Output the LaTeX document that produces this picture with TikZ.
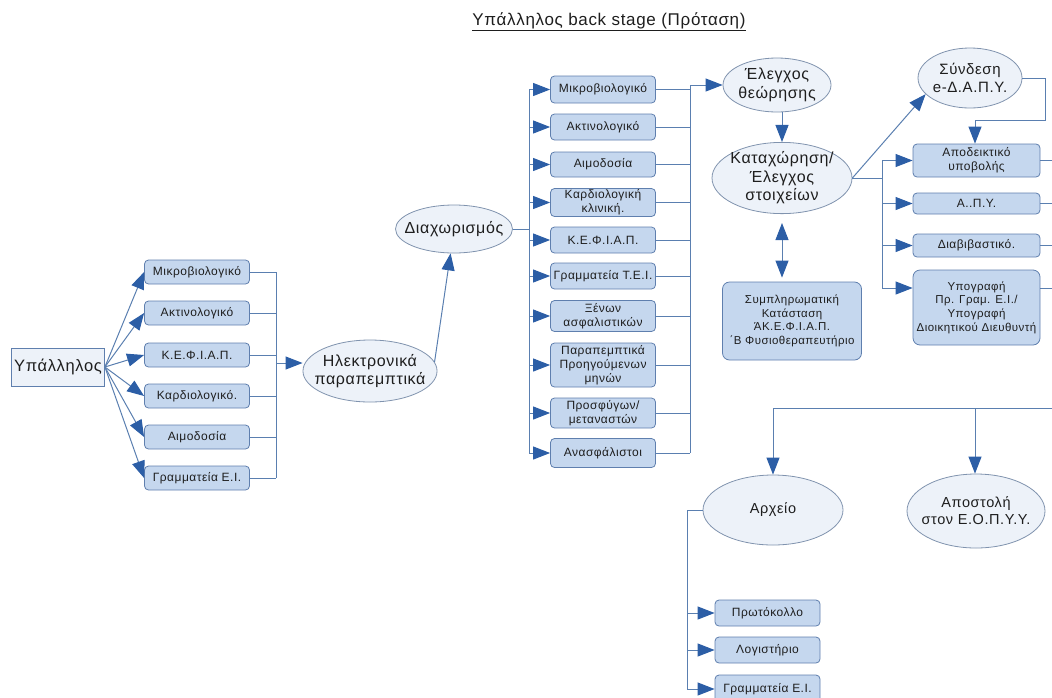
\documentclass[tikz,border=0pt]{standalone}
\usepackage{fontspec}
\setmainfont{Liberation Sans}[LetterSpace=4]
\usetikzlibrary{shapes.geometric,arrows.meta}
\definecolor{boxfill}{HTML}{C5D7EE}
\definecolor{boxline}{HTML}{5F7FAE}
\definecolor{ellfill}{HTML}{EDF2F9}
\definecolor{ellline}{HTML}{8093AE}
\definecolor{linecol}{HTML}{5A7FB0}
\definecolor{arrowcol}{HTML}{2C5EA6}
\definecolor{txt}{HTML}{1E1E1E}
\begin{document}
\begin{tikzpicture}[x=1pt,y=-1pt,
  every node/.style={text=txt},
  rbox/.style={draw=boxline, fill=boxfill, rounded corners=4pt, line width=0.8pt, align=center,
    inner sep=0pt, font=\fontsize{12}{13.8}\selectfont, minimum width=105pt, minimum height=24pt},
  bigbox/.style={rbox, rounded corners=7pt, font=\fontsize{11.5}{13.6}\selectfont},
  ybox/.style={draw=boxline, fill=ellfill, line width=0.8pt, minimum width=93pt, minimum height=38pt,
    inner sep=0pt, font=\fontsize{16.5}{19}\selectfont},
  ell/.style={ellipse, draw=ellline, fill=ellfill, line width=0.8pt, align=center,
    inner xsep=-8pt, inner ysep=-1pt, font=\fontsize{16}{18.5}\selectfont},
  ells/.style={ell, font=\fontsize{14.5}{17}\selectfont},
  conn/.style={draw=linecol, line width=1pt},
  arr/.style={conn, -{Triangle[length=17pt,width=13pt,color=arrowcol]}},
  darr/.style={conn, {Triangle[length=17pt,width=13pt,color=arrowcol]}-{Triangle[length=17pt,width=13pt,color=arrowcol]}}
]
\useasboundingbox (0,0) rectangle (1052,697);

% title
\node[font=\fontsize{17}{20}\selectfont] (title) at (609,22) {\underline{Υπάλληλος back stage (Πρόταση)}};

% left part
\node[ybox] (yp) at (58,367) {Υπάλληλος};
\node[rbox] (L1) at (197,272) {Μικροβιολογικό};
\node[rbox] (L2) at (197,313) {Ακτινολογικό};
\node[rbox] (L3) at (197,355) {Κ.Ε.Φ.Ι.Α.Π.};
\node[rbox] (L4) at (197,396) {Καρδιολογικό.};
\node[rbox] (L5) at (197,437) {Αιμοδοσία};
\node[rbox] (L6) at (197,478) {Γραμματεία Ε.Ι.};
\foreach \n in {L1,L2,L3,L4,L5,L6}{\draw[arr] (yp.east) -- (\n.west);}
\coordinate (lb1) at (276,272);
\coordinate (lb2) at (276,478);
\coordinate (lbm) at (276,363);
\foreach \n in {L1,L2,L3,L4,L5,L6}{\draw[conn] (\n.east) -- (\n.east -| lb1);}
\draw[conn] (lb1) -- (lb2);

\node[ell, minimum width=134pt, minimum height=62pt] (eh) at (370,371) {Ηλεκτρονικά\\παραπεμπτικά};
\draw[arr] (lbm) -- (lbm -| eh.west);

\node[ell, minimum width=114pt, minimum height=48pt] (dx) at (454,229) {Διαχωρισμός};
\draw[arr] (eh.8) -- (dx.262);

% middle column
\node[rbox, minimum height=27pt] (M1) at (603,89.5) {Μικροβιολογικό};
\node[rbox, minimum height=26pt] (M2) at (603,127) {Ακτινολογικό};
\node[rbox, minimum height=25pt] (M3) at (603,164.5) {Αιμοδοσία};
\node[rbox, minimum height=28pt] (M4) at (603,202.5) {Καρδιολογική\\κλινική.};
\node[rbox, minimum height=26pt] (M5) at (603,240) {Κ.Ε.Φ.Ι.Α.Π.};
\node[rbox, minimum height=26pt] (M6) at (603,276) {Γραμματεία Τ.Ε.Ι.};
\node[rbox, minimum height=31pt] (M7) at (603,316) {Ξένων\\ασφαλιστικών};
\node[rbox, minimum height=44pt] (M8) at (603,365) {Παραπεμπτικά\\Προηγούμενων\\μηνών};
\node[rbox, minimum height=30pt] (M9) at (603,413) {Προσφύγων/\\μεταναστών};
\node[rbox, minimum height=29pt] (M10) at (603,453) {Ανασφάλιστοι};
\coordinate (mb1) at (529,89.5);
\coordinate (mb2) at (529,453);
\draw[conn] (dx.east) -- (dx.east -| mb1);
\draw[conn] (mb1) -- (mb2);
\foreach \n in {M1,M2,M3,M4,M5,M6,M7,M8,M9,M10}{\draw[arr] (\n.west -| mb1) -- (\n.west);}
\coordinate (mr1) at (690,85);
\coordinate (mr2) at (690,453);
\foreach \n in {M1,M2,M3,M4,M5,M6,M7,M8,M9,M10}{\draw[conn] (\n.east) -- (\n.east -| mr1);}
\draw[conn] (mr1) -- (mr2);

\node[ell, minimum width=108pt, minimum height=54pt] (ev) at (777,85) {Έλεγχος\\θεώρησης};
\draw[arr] (mr1) -- (mr1 -| ev.west);

\node[ell, minimum width=140pt, minimum height=70pt] (kt) at (782,178) {Καταχώρηση/\\Έλεγχος\\στοιχείων};
\draw[arr] (kt.north |- ev.south) -- (kt.north);

\node[bigbox, minimum width=139pt, minimum height=78pt] (sp) at (792,321)
  {Συμπληρωματική\\Κατάσταση\\ΆΚ.Ε.Φ.Ι.Α.Π.\\΄Β Φυσιοθεραπευτήριο};
\draw[darr, shorten <=9pt, shorten >=4pt] (kt.south) -- (kt.south |- sp.north);

% right column
\node[ell, minimum width=104pt, minimum height=60pt, font=\fontsize{15}{17.5}\selectfont] (sy) at (970,78) {Σύνδεση\\e-Δ.Α.Π.Υ.};
\draw[arr] (kt.east) -- (sy.200);

\node[rbox, minimum width=127pt, minimum height=33pt] (R1) at (976.5,160.5) {Αποδεικτικό\\υποβολής};
\node[rbox, minimum width=127pt, minimum height=21pt] (R2) at (976.5,203.5) {Α..Π.Υ.};
\node[rbox, minimum width=127pt, minimum height=23pt] (R3) at (976.5,245.5) {Διαβιβαστικό.};
\node[bigbox, minimum width=127pt, minimum height=75pt] (R4) at (976.5,307.5)
  {Υπογραφή\\Πρ. Γραμ. Ε.Ι./\\Υπογραφή\\Διοικητικού Διευθυντή};

\coordinate (sy1) at (1045,120);
\coordinate (sy2) at (975,120);
\draw[arr] (sy.east) -| (sy1) -- (sy2) -- (sy2 |- R1.north);

\coordinate (rb0) at (882,178);
\coordinate (rb1) at (882,160.5);
\coordinate (rb2) at (882,288);
\draw[conn] (kt.east) -- (rb0);
\draw[conn] (rb1) -- (rb2);
\draw[arr] (rb1) -- (R1.west);
\draw[arr] (R2.west -| rb1) -- (R2.west);
\draw[arr] (R3.west -| rb1) -- (R3.west);
\draw[arr] (rb2) -- (rb2 -| R4.west);

\coordinate (re) at (1052,0);
\draw[conn] (R1.east) -- (R1.east -| re);
\draw[conn] (R2.east) -- (R2.east -| re);
\draw[conn] (R3.east) -- (R3.east -| re);
\draw[conn] (rb2 -| R4.east) -- (rb2 -| re);

% bottom part
\node[ells, minimum width=140pt, minimum height=70pt] (ar) at (773,510) {Αρχείο};
\node[ells, minimum width=138pt, minimum height=74pt] (ap) at (976,511) {Αποστολή\\στον Ε.Ο.Π.Υ.Υ.};
\coordinate (bt1) at (1052,408);
\coordinate (bt2) at (773,408);
\coordinate (bt3) at (975,408);
\draw[conn] (bt1) -- (bt2);
\draw[arr] (bt2) -- (ar.north);
\draw[arr] (bt3) -- (bt3 |- ap.north);

\node[rbox, minimum height=26pt] (B1) at (767.5,613) {Πρωτόκολλο};
\node[rbox, minimum height=26pt] (B2) at (767.5,650) {Λογιστήριο};
\node[rbox, minimum height=28pt] (B3) at (767.5,689) {Γραμματεία Ε.Ι.};
\coordinate (ab) at (687,689);
\draw[conn] (ar.west) -- (ar.west -| ab) -- (ab);
\foreach \n in {B1,B2,B3}{\draw[arr] (\n.west -| ab) -- (\n.west);}
\end{tikzpicture}
\end{document}
